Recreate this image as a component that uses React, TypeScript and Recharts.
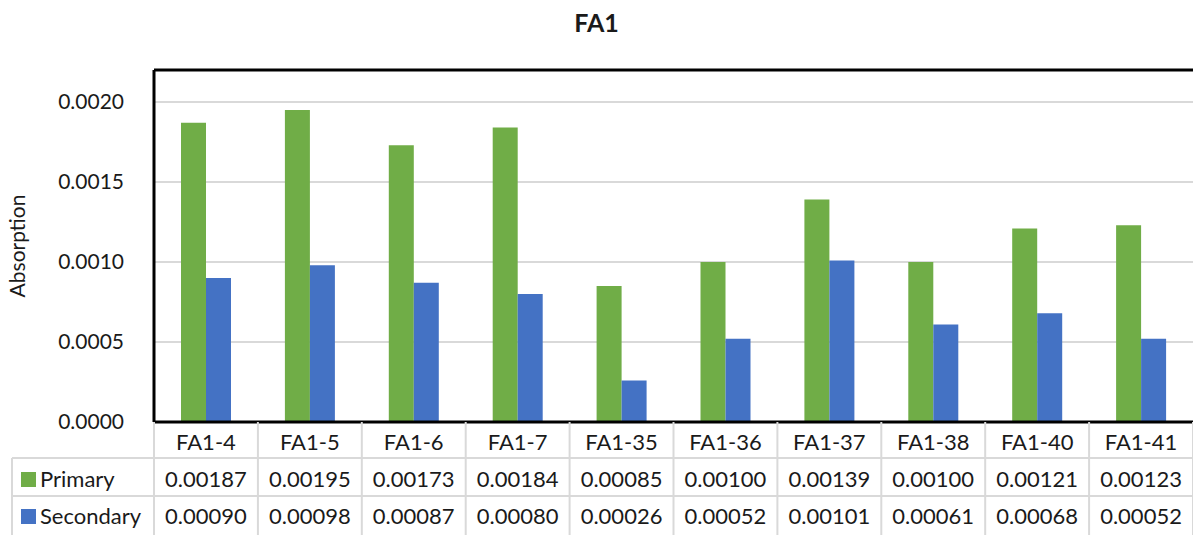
import React from "react";
import { BarChart, Bar, XAxis, YAxis, CartesianGrid, ReferenceLine } from "recharts";

const categories = ["FA1-4", "FA1-5", "FA1-6", "FA1-7", "FA1-35", "FA1-36", "FA1-37", "FA1-38", "FA1-40", "FA1-41"];
const primary = [0.00187, 0.00195, 0.00173, 0.00184, 0.00085, 0.001, 0.00139, 0.001, 0.00121, 0.00123];
const secondary = [0.0009, 0.00098, 0.00087, 0.0008, 0.00026, 0.00052, 0.00101, 0.00061, 0.00068, 0.00052];
const yTicks = [0, 0.0005, 0.001, 0.0015, 0.002];

const data = categories.map((name, i) => ({ name, primary: primary[i], secondary: secondary[i] }));

const W = 1193;
const H = 535;
const PLOT_LEFT = 154;
const PLOT_TOP = 70;
const PLOT_BOTTOM = 422;
const GREEN = "#70ad47";
const BLUE = "#4472c4";
const LINE = "#d9d9d9";
const TEXT = "#1a1a1a";
const FONT = "Lato, 'Open Sans', sans-serif";
const band = (W - PLOT_LEFT) / categories.length;

const row1 = 458;
const row2 = 496;
const row3 = 535;

function TableTick(props: any) {
  const { x, payload } = props;
  const i = payload.index ?? categories.indexOf(payload.value);
  const right = x + band / 2;
  return (
    <g fontFamily={FONT} fontSize={22} fill={TEXT}>
      {i === 0 && (
        <g>
          <line x1={PLOT_LEFT} y1={PLOT_BOTTOM} x2={PLOT_LEFT} y2={row3} stroke={LINE} strokeWidth={2} />
          <line x1={12} y1={row1} x2={W} y2={row1} stroke={LINE} strokeWidth={2} />
          <line x1={12} y1={row2} x2={W} y2={row2} stroke={LINE} strokeWidth={2} />
          <line x1={12} y1={row1} x2={12} y2={row3} stroke={LINE} strokeWidth={2} />
          <rect x={21} y={row1 + 14} width={15} height={15} fill={GREEN} />
          <text x={40} y={row1 + 29} fill={TEXT}>Primary</text>
          <rect x={21} y={row2 + 13} width={15} height={15} fill={BLUE} />
          <text x={40} y={row2 + 28} fill={TEXT}>Secondary</text>
        </g>
      )}
      <line x1={right} y1={PLOT_BOTTOM} x2={right} y2={row3} stroke={LINE} strokeWidth={2} />
      <text x={x} y={PLOT_BOTTOM + 28} textAnchor="middle" fill={TEXT}>{payload.value}</text>
      <text x={x} y={row1 + 29} textAnchor="middle" fill={TEXT}>{primary[i].toFixed(5)}</text>
      <text x={x} y={row2 + 28} textAnchor="middle" fill={TEXT}>{secondary[i].toFixed(5)}</text>
    </g>
  );
}

export default function App() {
  return (
    <div style={{ position: "absolute", left: 0, top: 0, width: W, height: H, background: "#fff" }}>
      <div
        style={{
          position: "absolute",
          top: 6,
          left: 0,
          width: W,
          textAlign: "center",
          fontFamily: FONT,
          fontWeight: 700,
          fontSize: 25,
          lineHeight: "32px",
          color: TEXT,
        }}
      >
        FA1
      </div>
      <BarChart
        width={W}
        height={H}
        data={data}
        margin={{ top: PLOT_TOP, right: 0, bottom: 0, left: 0 }}
        barGap={0}
        barSize={25}
      >
        <CartesianGrid vertical={false} stroke={LINE} strokeWidth={2} />
        <XAxis
          dataKey="name"
          axisLine={{ stroke: "#000", strokeWidth: 3 }}
          tickLine={false}
          height={H - PLOT_BOTTOM}
          interval={0}
          tick={<TableTick />}
        />
        <YAxis
          width={PLOT_LEFT}
          domain={[0, 0.0022]}
          ticks={yTicks}
          tickFormatter={(v: number) => v.toFixed(4)}
          axisLine={{ stroke: "#000", strokeWidth: 3 }}
          tickLine={false}
          tick={{ fill: TEXT, fontSize: 21, fontFamily: FONT }}
          tickMargin={24}
          label={{
            value: "Absorption",
            angle: -90,
            position: "insideLeft",
            offset: 18,
            style: { fill: TEXT, fontSize: 21, fontFamily: FONT, textAnchor: "middle" },
          }}
        />
        <ReferenceLine y={0.0022} stroke="#000" strokeWidth={3} />
        <Bar dataKey="primary" fill={GREEN} isAnimationActive={false} />
        <Bar dataKey="secondary" fill={BLUE} isAnimationActive={false} />
      </BarChart>
    </div>
  );
}
